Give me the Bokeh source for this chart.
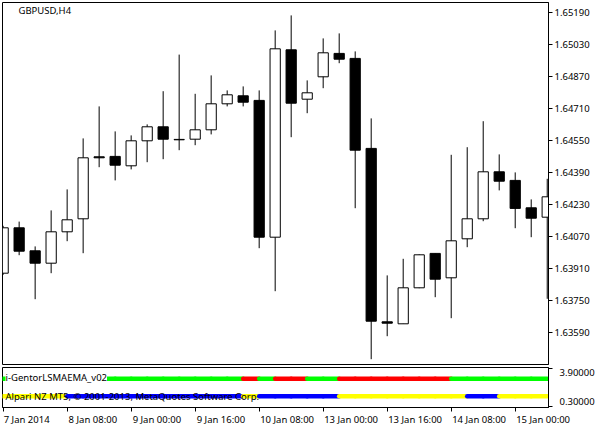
from bokeh.plotting import figure
from bokeh.models import ColumnDataSource, FixedTicker, Range1d, Label, NumeralTickFormatter
from bokeh.layouts import column
from bokeh.embed import file_html
from bokeh.resources import INLINE

# ---------------- data ----------------
symbol_title = "GBPUSD,H4"
indicator_name = "i-GentorLSMAEMA_v02"
copyright_text = "Alpari NZ MT5, \u00a9 2001-2013, MetaQuotes Software Corp."

opens = [1.63888, 1.64115, 1.64000, 1.63938, 1.64095, 1.64160, 1.64470, 1.64472, 1.64425, 1.64550,
         1.64620, 1.64555, 1.64558, 1.64605, 1.64735, 1.64775, 1.64752, 1.64068, 1.65005, 1.64758,
         1.64870, 1.64987, 1.64962, 1.64512, 1.63645, 1.63635, 1.63815, 1.63987, 1.63865, 1.64060,
         1.64160, 1.64395, 1.64352, 1.64215, 1.64168]
highs = [1.64125, 1.64146, 1.64022, 1.64202, 1.64307, 1.64562, 1.64722, 1.64597, 1.64577, 1.64632,
         1.64798, 1.64981, 1.64785, 1.64877, 1.64802, 1.64822, 1.64802, 1.65102, 1.65177, 1.64852,
         1.65062, 1.65087, 1.64997, 1.64662, 1.63877, 1.63960, 1.63982, 1.63987, 1.64480, 1.64518,
         1.64648, 1.64482, 1.64392, 1.64257, 1.64360]
lows = [1.63880, 1.63978, 1.63758, 1.63888, 1.64048, 1.63988, 1.64418, 1.64352, 1.64407, 1.64443,
        1.64458, 1.64503, 1.64528, 1.64582, 1.64722, 1.64722, 1.64013, 1.63798, 1.64568, 1.64688,
        1.64813, 1.64938, 1.64213, 1.63458, 1.63573, 1.63635, 1.63813, 1.63768, 1.63663, 1.64018,
        1.64148, 1.64302, 1.64113, 1.64068, 1.63760]
closes = [1.64115, 1.63998, 1.63938, 1.64095, 1.64155, 1.64465, 1.64465, 1.64428, 1.64550, 1.64620,
          1.64558, 1.64557, 1.64605, 1.64735, 1.64780, 1.64743, 1.64068, 1.65010, 1.64738, 1.64790,
          1.64990, 1.64958, 1.64503, 1.63648, 1.63638, 1.63815, 1.63980, 1.63858, 1.64050, 1.64160,
          1.64395, 1.64348, 1.64212, 1.64163, 1.64270]

price_ticks = [1.63590, 1.63750, 1.63910, 1.64070, 1.64230, 1.64390, 1.64550,
               1.64710, 1.64870, 1.65030, 1.65190]
time_tick_bars = [0, 4, 8, 12, 16, 20, 24, 28, 32]
time_tick_labels = ["7 Jan 2014", "8 Jan 08:00", "9 Jan 00:00", "9 Jan 16:00", "10 Jan 08:00",
                    "13 Jan 00:00", "13 Jan 16:00", "14 Jan 08:00", "15 Jan 00:00"]
sub_ticks = [3.9, 0.3]

# indicator: two colour-coded level lines (colour of each bar-to-bar segment)
trend_level = 2.92
signal_level = 1.26
trend_colors = (["lime"] * 15 + ["red"] + ["lime"] + ["red"] * 2 + ["lime"] * 2
                + ["red"] * 7 + ["lime"] * 6)
signal_colors = (["yellow"] * 4 + ["blue"] * 11 + ["yellow"] + ["blue"] * 5
                 + ["yellow"] * 8 + ["blue"] * 2 + ["yellow"] * 3)

# ---------------- layout ----------------
FONT = "Noto Sans"
FS = "9.5px"
FRAME_W = 546
MAIN_H = 362
SUB_H = 40
x_start, x_end = -0.04, 34.08
price_lo, price_hi = 1.634315, 1.652415
sub_lo, sub_hi = 0.18, 4.0

bars = list(range(len(opens)))
xr = Range1d(x_start, x_end)
px_per_bar = FRAME_W / (x_end - x_start)
px_per_sub = SUB_H / (sub_hi - sub_lo)


def style_axis(ax):
    ax.axis_line_color = "black"
    ax.major_tick_line_color = "black"
    ax.major_tick_out = 4
    ax.major_tick_in = 0
    ax.minor_tick_line_color = None
    ax.major_label_standoff = 2
    ax.major_label_text_font = FONT
    ax.major_label_text_font_size = FS
    ax.major_label_text_color = "black"


# ---------- main price panel ----------
p1 = figure(frame_width=FRAME_W, frame_height=MAIN_H, x_range=xr, y_range=Range1d(price_lo, price_hi),
            x_axis_location=None, y_axis_location="right",
            output_backend="svg", toolbar_location=None,
            min_border_left=2, min_border_right=48, min_border_top=2, min_border_bottom=1,
            background_fill_color="white", border_fill_color="white")
p1.outline_line_color = "black"
p1.outline_line_width = 1
p1.outline_line_alpha = 1
p1.grid.visible = False
style_axis(p1.yaxis[0])
p1.yaxis[0].ticker = FixedTicker(ticks=price_ticks)
p1.yaxis[0].formatter = NumeralTickFormatter(format="0.00000")

fills = ["white" if c >= o else "black" for o, c in zip(opens, closes)]
tops = [max(o, c) for o, c in zip(opens, closes)]
bottoms = [min(o, c) for o, c in zip(opens, closes)]
src = ColumnDataSource(dict(x=bars, high=highs, low=lows, top=tops, bottom=bottoms, fill=fills))
p1.segment(x0="x", y0="low", x1="x", y1="high", source=src, line_color="black", line_width=1)
p1.vbar(x="x", width=0.64, top="top", bottom="bottom", fill_color="fill",
        line_color="black", line_width=1, source=src)

p1.add_layout(Label(x=x_start, y=price_hi, x_offset=16, y_offset=-8, text=symbol_title,
                    text_font=FONT, text_font_size=FS, text_color="black",
                    text_align="left", text_baseline="middle"))

# ---------- indicator sub panel ----------
p2 = figure(frame_width=FRAME_W, frame_height=SUB_H, x_range=xr, y_range=Range1d(sub_lo, sub_hi),
            y_axis_location="right", output_backend="svg", toolbar_location=None,
            min_border_left=2, min_border_right=48, min_border_top=2, min_border_bottom=16,
            background_fill_color="white", border_fill_color="white")
p2.outline_line_color = "black"
p2.outline_line_width = 1
p2.outline_line_alpha = 1
p2.grid.visible = False

# right scale: tick marks at the values, the value texts sit just inside the panel
sub_label_pos = [round(sub_ticks[0] - 3.6 / px_per_sub, 3), round(sub_ticks[1] + 4.6 / px_per_sub, 3)]
ay = p2.yaxis[0]
style_axis(ay)
ay.ticker = FixedTicker(ticks=sub_label_pos, minor_ticks=sub_ticks)
ay.major_label_overrides = {pos: f"{t:.5f}" for pos, t in zip(sub_label_pos, sub_ticks)}
ay.major_tick_line_color = None
ay.major_tick_out = 0
ay.minor_tick_line_color = "black"
ay.minor_tick_out = 4
ay.minor_tick_in = 0
ay.major_label_standoff = 7

# time scale: tick marks at the bars, the texts start just right of each tick
label_centers = [round(b + (1.5 + 2.2 * len(t)) / px_per_bar, 3)
                 for b, t in zip(time_tick_bars, time_tick_labels)]
ax = p2.xaxis[0]
style_axis(ax)
ax.ticker = FixedTicker(ticks=label_centers, minor_ticks=time_tick_bars)
ax.major_label_overrides = {c: t for c, t in zip(label_centers, time_tick_labels)}
ax.major_tick_line_color = None
ax.major_tick_out = 0
ax.minor_tick_line_color = "black"
ax.minor_tick_out = 4
ax.minor_tick_in = 0
ax.major_label_standoff = 1

seg_src_t = ColumnDataSource(dict(x0=bars[:-1], x1=bars[1:], y=[trend_level] * (len(bars) - 1),
                                  c=trend_colors))
seg_src_s = ColumnDataSource(dict(x0=bars[:-1], x1=bars[1:], y=[signal_level] * (len(bars) - 1),
                                  c=signal_colors))
p2.segment(x0="x0", y0="y", x1="x1", y1="y", line_color="c", line_width=4.5, line_cap="round",
           source=seg_src_t)
p2.segment(x0="x0", y0="y", x1="x1", y1="y", line_color="c", line_width=4.5, line_cap="round",
           source=seg_src_s)

p2.add_layout(Label(x=x_start, y=trend_level, x_offset=3, y_offset=1, text=indicator_name,
                    text_font=FONT, text_font_size=FS, text_color="black",
                    text_align="left", text_baseline="middle",
                    background_fill_color="white"))
p2.add_layout(Label(x=x_start, y=signal_level, x_offset=3, text=copyright_text,
                    text_font=FONT, text_font_size=FS, text_color="black",
                    text_align="left", text_baseline="middle"))

layout = column(p1, p2, spacing=0)
open("out.html", "w").write(file_html(layout, INLINE))
